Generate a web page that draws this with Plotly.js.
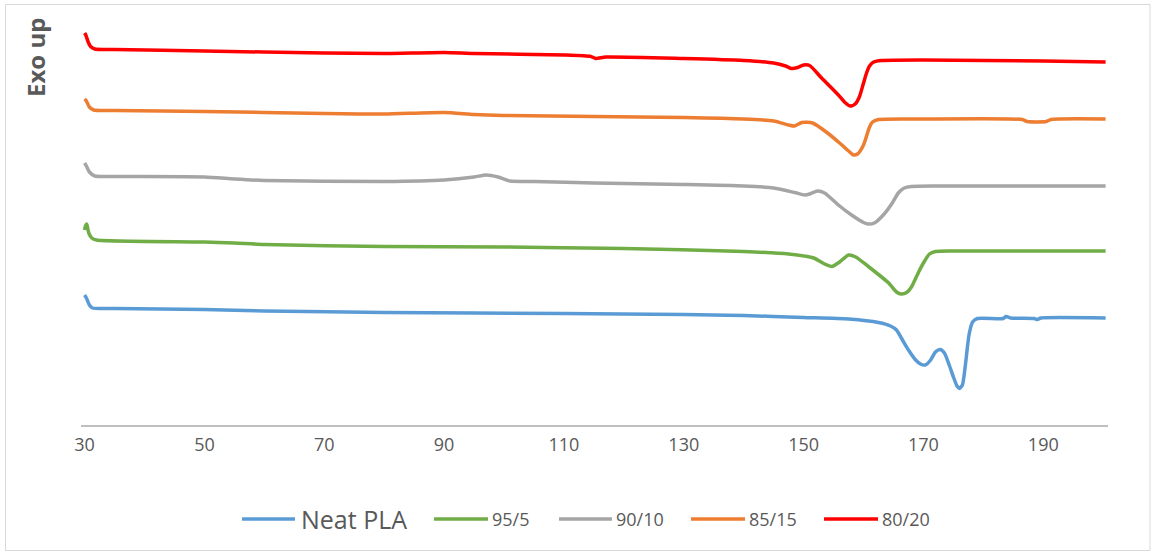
<!DOCTYPE html>
<html>
<head>
<meta charset="utf-8">
<script src="https://cdn.plot.ly/plotly-3.0.1.min.js"></script>
<style>
  html, body { margin: 0; padding: 0; background: #ffffff; }
  #chart { width: 1154px; height: 555px; }
</style>
</head>
<body>
<div id="chart"></div>
<script>
// DSC heating scans, temperature (°C) vs. heat flow (offset, exo up)
const seriesNames  = ['Neat PLA', '95/5', '90/10', '85/15', '80/20'];
const seriesColors = ['#5B9BD5', '#70AD47', '#A5A5A5', '#ED7D31', '#FF0000'];
const xTickVals    = [30, 50, 70, 90, 110, 130, 150, 170, 190];

const neatT = [30, 30.3, 30.8, 31.3, 35, 50, 60, 80, 110, 130, 140, 150, 157.5, 162.5, 164.5, 165.5, 166.5, 167.5, 168.7, 169.5, 170.3, 171.2, 172, 172.8, 173.5, 174.3, 175, 175.6, 176, 176.5, 177, 177.6, 178.2, 179, 183.3, 183.8, 184.5, 188.5, 189, 189.6, 200.4];
const neatY = [2.60, 2.54, 2.40, 2.34, 2.33, 2.31, 2.28, 2.25, 2.23, 2.21, 2.19, 2.15, 2.12, 2.05, 1.98, 1.90, 1.70, 1.50, 1.30, 1.22, 1.20, 1.30, 1.46, 1.51, 1.44, 1.20, 0.96, 0.78, 0.73, 0.80, 1.20, 1.80, 2.06, 2.13, 2.13, 2.17, 2.14, 2.13, 2.11, 2.14, 2.14];

const pla95T = [30, 30.15, 30.35, 30.7, 31.2, 32, 50, 55, 60, 80, 100, 120, 140, 147.5, 151.7, 153.5, 154.7, 156, 157.5, 158.7, 160.8, 164.2, 165.5, 166.3, 167.2, 168, 169.2, 170, 171, 172, 175, 200.4];
const pla95Y = [3.90, 3.98, 4.02, 3.84, 3.74, 3.70, 3.66, 3.64, 3.61, 3.57, 3.56, 3.53, 3.47, 3.42, 3.34, 3.22, 3.17, 3.26, 3.40, 3.36, 3.17, 2.84, 2.66, 2.62, 2.65, 2.76, 3.06, 3.24, 3.42, 3.47, 3.48, 3.48];

const pla90T = [30, 30.3, 30.8, 31.7, 35, 50, 55, 60, 80, 90, 95, 97, 99, 101, 105, 115, 130, 140, 145, 148.5, 150.2, 151, 152.3, 153.5, 155.8, 158, 160, 160.8, 161.8, 163.3, 164.8, 165.8, 166.8, 168, 172, 200.4];
const pla90Y = [5.24, 5.18, 5.06, 4.98, 4.97, 4.96, 4.92, 4.89, 4.87, 4.90, 4.96, 5.00, 4.96, 4.88, 4.87, 4.84, 4.81, 4.78, 4.74, 4.65, 4.60, 4.62, 4.68, 4.64, 4.40, 4.20, 4.05, 4.02, 4.04, 4.20, 4.44, 4.64, 4.74, 4.77, 4.78, 4.78];

const pla85T = [30, 30.3, 30.8, 31.5, 35, 50, 70, 80, 90, 95, 100, 115, 130, 140, 145, 147.5, 148.5, 149.7, 151.5, 154, 156, 157.5, 158.3, 159, 160, 161, 161.5, 162.5, 170, 186.5, 187.3, 190.5, 191.3, 200.4];
const pla85Y = [6.52, 6.48, 6.36, 6.30, 6.29, 6.27, 6.23, 6.22, 6.25, 6.21, 6.19, 6.17, 6.15, 6.12, 6.08, 6.00, 5.98, 6.05, 6.04, 5.84, 5.64, 5.48, 5.40, 5.42, 5.60, 5.96, 6.06, 6.11, 6.12, 6.11, 6.07, 6.07, 6.11, 6.12];

const pla80T = [30, 30.2, 30.6, 31, 31.7, 35, 50, 70, 80, 90, 95, 110, 114.5, 115.3, 117, 130, 140, 145, 147, 148, 149, 150, 151, 153, 155.8, 157, 157.8, 158.6, 159.3, 160, 160.5, 161, 161.7, 163, 170, 190, 200.4];
const pla80Y = [7.84, 7.80, 7.66, 7.57, 7.52, 7.51, 7.48, 7.44, 7.43, 7.45, 7.43, 7.40, 7.37, 7.33, 7.36, 7.33, 7.29, 7.24, 7.18, 7.13, 7.15, 7.20, 7.19, 6.94, 6.60, 6.44, 6.38, 6.42, 6.56, 6.84, 7.04, 7.18, 7.26, 7.29, 7.30, 7.28, 7.26];

const seriesT = [neatT, pla95T, pla90T, pla85T, pla80T];
const seriesY = [neatY, pla95Y, pla90Y, pla85Y, pla80Y];

const traces = seriesNames.map((name, i) => ({
  type: 'scatter',
  mode: 'lines',
  name: name,
  x: seriesT[i],
  y: seriesY[i],
  line: { color: seriesColors[i], width: 3.5, shape: 'spline', smoothing: 0.6 },
  showlegend: false,
  hoverinfo: 'x+y+name'
}));

// page geometry (pixels) used to place the frame, axis title and legend row
const W = 1154, H = 555;
const M = { l: 81, r: 46, t: 20, b: 130 };
const plotW = W - M.l - M.r, plotH = H - M.t - M.b;
const fx = px => (px - M.l) / plotW;
const fy = py => (H - M.b - py) / plotH;

const textGray = '#595959';
const shapes = [];
const annotations = [];

// outer chart frame
shapes.push({
  type: 'rect', xref: 'paper', yref: 'paper',
  x0: fx(5.5), x1: fx(1150), y0: fy(550.5), y1: fy(4.5),
  line: { color: '#D9D9D9', width: 1 }, fillcolor: 'rgba(0,0,0,0)', layer: 'below'
});

// y-axis caption
annotations.push({
  xref: 'paper', yref: 'paper', x: fx(36), y: fy(58),
  xanchor: 'center', yanchor: 'middle', textangle: -90, showarrow: false,
  text: '<b>Exo up</b>',
  font: { family: 'Open Sans, sans-serif', size: 24, color: textGray }
});

// legend row along the bottom
const legendRowY = 519;
const legendLine = [[242, 295], [434, 488], [559, 612], [691, 745], [824, 878]];
const legendText = [301, 492, 616, 749, 882];
const legendSize = [25, 18, 18, 18, 18];
seriesNames.forEach((name, i) => {
  shapes.push({
    type: 'line', xref: 'paper', yref: 'paper',
    x0: fx(legendLine[i][0]), x1: fx(legendLine[i][1]),
    y0: fy(legendRowY), y1: fy(legendRowY),
    line: { color: seriesColors[i], width: 3.5 }
  });
  annotations.push({
    xref: 'paper', yref: 'paper', x: fx(legendText[i] - 2), y: fy(legendRowY),
    xanchor: 'left', yanchor: 'middle', showarrow: false,
    text: name,
    font: { family: 'Open Sans, sans-serif', size: legendSize[i], color: textGray }
  });
});

const layout = {
  width: W, height: H,
  margin: M,
  paper_bgcolor: '#ffffff',
  plot_bgcolor: '#ffffff',
  showlegend: false,
  xaxis: {
    range: [29.4, 200.8],
    tickmode: 'array',
    tickvals: xTickVals,
    ticktext: xTickVals.map(String),
    ticks: '',
    showgrid: false,
    zeroline: false,
    showline: true,
    linecolor: '#BFBFBF',
    linewidth: 1.5,
    tickfont: { family: 'Open Sans, sans-serif', size: 18, color: textGray },
    ticklabelstandoff: 3
  },
  yaxis: {
    range: [0, 8.1],
    showticklabels: false,
    ticks: '',
    showgrid: false,
    zeroline: false,
    showline: false
  },
  shapes: shapes,
  annotations: annotations
};

Plotly.newPlot('chart', traces, layout, { displayModeBar: false, staticPlot: true });
</script>
</body>
</html>
